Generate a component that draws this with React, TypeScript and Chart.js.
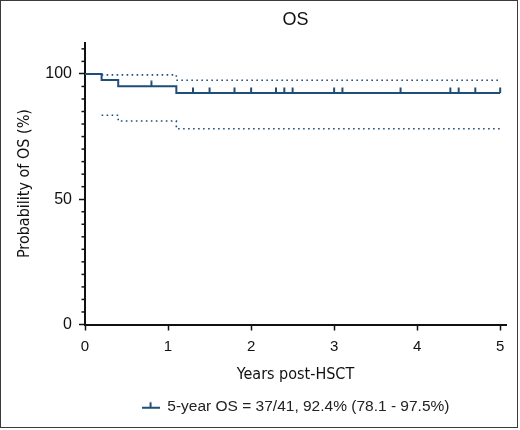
import { useEffect, useRef } from "react";
import { Chart, registerables } from "chart.js";

Chart.register(...registerables);

// ---- data ----
const kmTimes = [0, 0.2, 0.4, 1.1, 5.0];
const kmSurvival = [100, 97.6, 95.1, 92.4, 92.4];
const ciTimes = [0.2, 0.4, 1.1, 5.0];
const ciUpper = [99.6, 99.6, 97.5, 97.5];
const ciLower = [83.5, 81.2, 78.1, 78.1];
const censorTimes = [0.8, 1.3, 1.5, 1.8, 2.0, 2.3, 2.4, 2.5, 3.0, 3.1, 3.8, 4.4, 4.5, 4.7, 5.0];
const xTicks = [0, 1, 2, 3, 4, 5];
const yTicks = [0, 50, 100];
const yMinorStep = 5;
const chartTitle = "OS";
const xTitle = "Years post-HSCT";
const yTitle = "Probability of OS (%)";
const legendLabel = "5-year OS = 37/41, 92.4% (78.1 - 97.5%)";

const NAVY = "#1f4e79";
const INK = "#111";
const NARROW = "'Liberation Sans Narrow', 'DejaVu Sans Condensed', 'Liberation Sans', sans-serif";
const SANS = "'Liberation Sans', Arial, sans-serif";

function survivalAt(t: number): number {
  let v = kmSurvival[0];
  for (let i = 0; i < kmTimes.length; i++) if (kmTimes[i] <= t) v = kmSurvival[i];
  return v;
}

function makeCensorMark(): HTMLCanvasElement {
  const c = document.createElement("canvas");
  c.width = 4;
  c.height = 12;
  const g = c.getContext("2d")!;
  g.strokeStyle = NAVY;
  g.lineWidth = 2;
  g.beginPath();
  g.moveTo(2, 0.5);
  g.lineTo(2, 6);
  g.stroke();
  return c;
}

function makeLegendIcon(): HTMLCanvasElement {
  const c = document.createElement("canvas");
  c.width = 18;
  c.height = 12;
  const g = c.getContext("2d")!;
  g.strokeStyle = NAVY;
  g.lineWidth = 2;
  g.beginPath();
  g.moveTo(0, 7);
  g.lineTo(18, 7);
  g.moveTo(9, 1.5);
  g.lineTo(9, 7);
  g.stroke();
  return c;
}

const minorTicks = {
  id: "minorTicks",
  afterDraw(chart: any) {
    const y = chart.scales.y;
    const ctx = chart.ctx;
    ctx.save();
    ctx.strokeStyle = INK;
    ctx.lineWidth = 1.5;
    for (let v = y.min; v <= y.max; v += yMinorStep) {
      if (yTicks.includes(v)) continue;
      const py = y.getPixelForValue(v);
      ctx.beginPath();
      ctx.moveTo(y.right - 3.5, py);
      ctx.lineTo(y.right, py);
      ctx.stroke();
    }
    ctx.restore();
  },
};

export default function App() {
  const ref = useRef<HTMLCanvasElement | null>(null);

  useEffect(() => {
    if (!ref.current) return;
    const chart = new Chart(ref.current, {
      type: "line",
      data: {
        datasets: [
          {
            label: legendLabel,
            data: kmTimes.map((t, i) => ({ x: t, y: kmSurvival[i] })),
            borderColor: NAVY,
            backgroundColor: NAVY,
            borderWidth: 2,
            stepped: "before",
            pointRadius: 0,
            pointStyle: makeLegendIcon() as any,
            fill: false,
          },
          {
            label: "upper",
            data: ciTimes.map((t, i) => ({ x: t, y: ciUpper[i] })),
            borderColor: NAVY,
            borderWidth: 1.6,
            borderDash: [1.6, 3.4],
            stepped: "before",
            pointRadius: 0,
            fill: false,
          },
          {
            label: "lower",
            data: ciTimes.map((t, i) => ({ x: t, y: ciLower[i] })),
            borderColor: NAVY,
            borderWidth: 1.6,
            borderDash: [1.6, 3.4],
            stepped: "before",
            pointRadius: 0,
            fill: false,
          },
          {
            label: "censored",
            data: censorTimes.map((t) => ({ x: t, y: survivalAt(t) })),
            showLine: false,
            pointStyle: makeCensorMark() as any,
            pointRadius: 3,
            borderColor: NAVY,
            backgroundColor: NAVY,
          },
        ],
      },
      options: {
        responsive: false,
        animation: false,
        layout: { padding: { top: 0, left: 0, right: 11, bottom: 2.5 } },
        scales: {
          x: {
            type: "linear",
            min: 0,
            max: 5.07,
            afterBuildTicks: (s: any) => {
              s.ticks = xTicks.map((v) => ({ value: v }));
            },
            afterFit: (s: any) => {
              s.height = 64.5;
            },
            border: { display: true, color: INK, width: 2 },
            grid: { drawOnChartArea: false, drawTicks: true, tickLength: 6, tickWidth: 1.5, tickColor: INK },
            ticks: { color: INK, font: { family: SANS, size: 15 }, padding: 7, maxRotation: 0 },
            title: {
              display: true,
              text: xTitle,
              color: INK,
              font: { family: NARROW, size: 16 },
              padding: { top: 0, bottom: 5 },
            },
          },
          y: {
            type: "linear",
            min: 0,
            max: 112.5,
            afterBuildTicks: (s: any) => {
              s.ticks = yTicks.map((v) => ({ value: v }));
            },
            afterFit: (s: any) => {
              s.width = 84;
            },
            border: { display: true, color: INK, width: 2 },
            grid: { drawOnChartArea: false, drawTicks: true, tickLength: 6, tickWidth: 1.5, tickColor: INK },
            ticks: { color: INK, font: { family: SANS, size: 16 }, padding: 7 },
            title: {
              display: true,
              text: yTitle,
              color: INK,
              font: { family: NARROW, size: 16 },
              padding: { top: 14, bottom: 0 },
            },
          },
        },
        plugins: {
          title: {
            display: true,
            text: chartTitle,
            color: INK,
            fullSize: false,
            font: { family: SANS, size: 18, weight: "normal" },
            padding: { top: 8, bottom: 12 },
          },
          legend: {
            display: true,
            position: "bottom",
            fullSize: false,
            labels: {
              usePointStyle: true,
              pointStyleWidth: 18,
              color: "#222",
              font: { family: SANS, size: 15.5 },
              padding: 10,
              filter: (item: any) => item.datasetIndex === 0,
            },
          },
          tooltip: { enabled: false },
        },
      },
      plugins: [minorTicks],
    } as any);
    return () => chart.destroy();
  }, []);

  return (
    <div
      style={{
        position: "absolute",
        left: 0,
        top: 0,
        width: 518,
        height: 428,
        boxSizing: "border-box",
        border: "1px solid #3a3a3a",
        background: "#fff",
      }}
    >
      <canvas ref={ref} width={516} height={426} style={{ display: "block" }} />
    </div>
  );
}
